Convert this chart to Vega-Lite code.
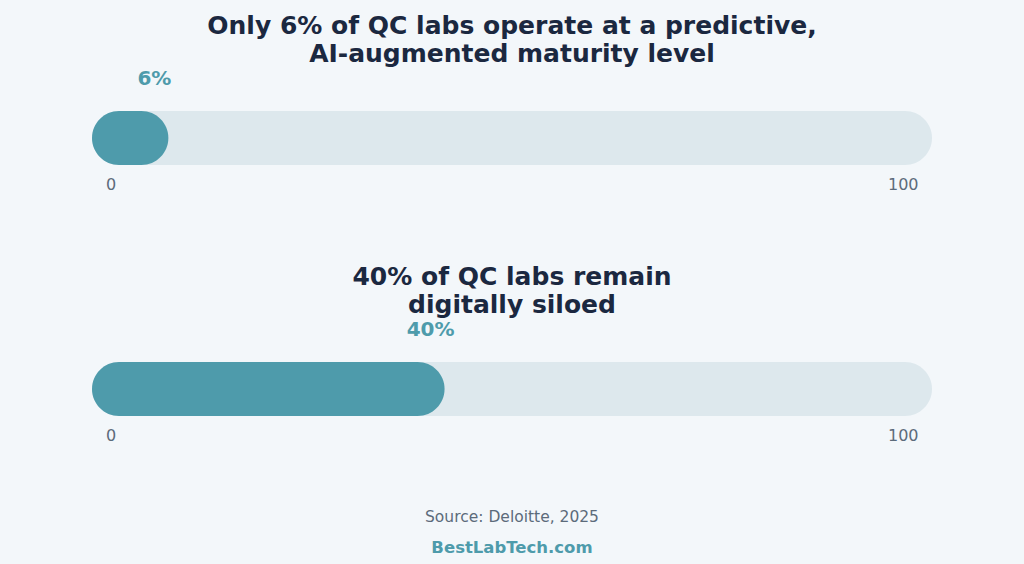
{
  "$schema": "https://vega.github.io/schema/vega-lite/v6.json",
  "background": "#f3f7fa",
  "padding": {"left": 92, "right": 92, "top": 14, "bottom": 2},
  "spacing": 58,
  "config": {
    "view": {"stroke": null},
    "font": "DejaVu Sans",
    "title": {
      "fontSize": 25,
      "fontWeight": "bold",
      "color": "#1b2840",
      "anchor": "middle",
      "lineHeight": 28,
      "offset": 2
    },
    "axisX": {
      "domain": false,
      "ticks": false,
      "grid": false,
      "labelFlush": true,
      "labelFontSize": 16,
      "labelColor": "#5c6b7a",
      "labelPadding": 11,
      "labelOffset": -14,
      "labelAlign": {"condition": {"test": "datum.value == 0", "value": "left"}, "value": "right"}
    }
  },
  "vconcat": [
    {
      "spacing": 73,
      "vconcat": [
        {
          "width": 840,
          "height": 54,
          "title": {"text": ["Only 6% of QC labs operate at a predictive,", "AI-augmented maturity level"]},
          "data": {"values": [{"value": 6, "label": "6%"}]},
          "layer": [
            {
              "mark": {"type": "bar", "height": 54, "cornerRadius": 27, "color": "#dde8ed"},
              "encoding": {
                "x": {
                  "datum": 100,
                  "type": "quantitative",
                  "scale": {"domain": [-3.4, 100], "nice": false, "zero": false},
                  "axis": {"values": [0, 100], "title": null}
                },
                "x2": {"datum": -3.4}
              }
            },
            {
              "mark": {"type": "bar", "height": 54, "cornerRadius": 27, "color": "#4e9bab"},
              "encoding": {
                "x": {"field": "value", "type": "quantitative"},
                "x2": {"datum": -3.4}
              }
            },
            {
              "mark": {"type": "text", "dx": -14, "dy": -59, "fontSize": 20, "fontWeight": "bold", "color": "#4e9bab", "baseline": "middle"},
              "encoding": {
                "x": {"field": "value", "type": "quantitative"},
                "text": {"field": "label", "type": "nominal"}
              }
            }
          ]
        },
        {
          "width": 840,
          "height": 54,
          "title": {"text": ["40% of QC labs remain", "digitally siloed"]},
          "data": {"values": [{"value": 40, "label": "40%"}]},
          "layer": [
            {
              "mark": {"type": "bar", "height": 54, "cornerRadius": 27, "color": "#dde8ed"},
              "encoding": {
                "x": {
                  "datum": 100,
                  "type": "quantitative",
                  "scale": {"domain": [-3.4, 100], "nice": false, "zero": false},
                  "axis": {"values": [0, 100], "title": null}
                },
                "x2": {"datum": -3.4}
              }
            },
            {
              "mark": {"type": "bar", "height": 54, "cornerRadius": 27, "color": "#4e9bab"},
              "encoding": {
                "x": {"field": "value", "type": "quantitative"},
                "x2": {"datum": -3.4}
              }
            },
            {
              "mark": {"type": "text", "dx": -14, "dy": -59, "fontSize": 20, "fontWeight": "bold", "color": "#4e9bab", "baseline": "middle"},
              "encoding": {
                "x": {"field": "value", "type": "quantitative"},
                "text": {"field": "label", "type": "nominal"}
              }
            }
          ]
        }
      ]
    },
    {
      "width": 840,
      "height": 62,
      "data": {"values": [{"line": 1, "text": "Source: Deloitte, 2025"}, {"line": 2, "text": "BestLabTech.com"}]},
      "layer": [
        {
          "transform": [{"filter": "datum.line == 1"}],
          "mark": {"type": "text", "fontSize": 15.5, "color": "#5c6b7a"},
          "encoding": {
            "y": {"field": "line", "type": "ordinal", "axis": null, "scale": {"domain": [1, 2]}},
            "text": {"field": "text", "type": "nominal"}
          }
        },
        {
          "transform": [{"filter": "datum.line == 2"}],
          "mark": {"type": "text", "fontSize": 16.5, "fontWeight": "bold", "color": "#4e9bab"},
          "encoding": {
            "y": {"field": "line", "type": "ordinal", "axis": null, "scale": {"domain": [1, 2]}},
            "text": {"field": "text", "type": "nominal"}
          }
        }
      ]
    }
  ]
}
